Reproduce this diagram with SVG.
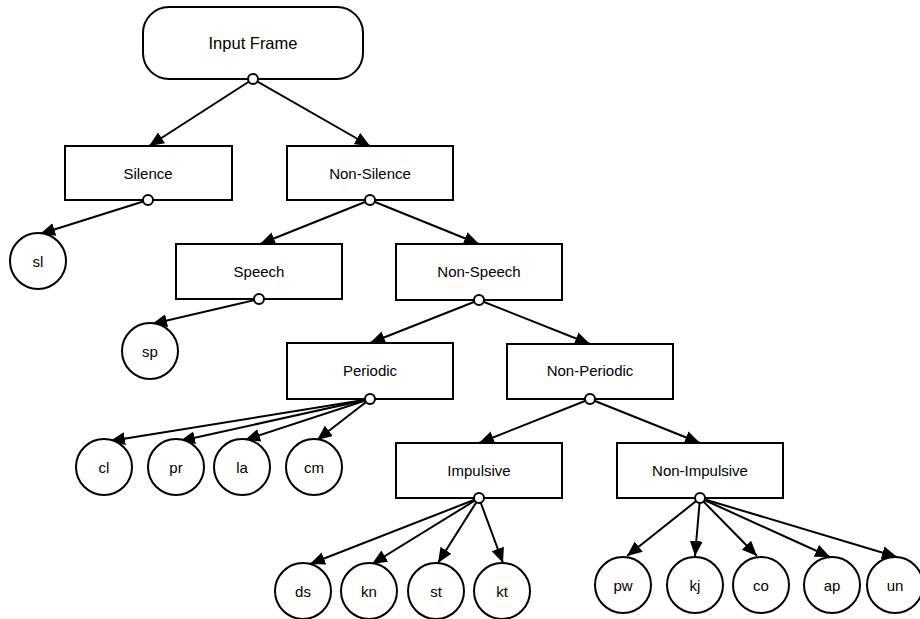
<svg xmlns="http://www.w3.org/2000/svg" width="920" height="619" viewBox="0 0 920 619">
<style>
.box{fill:#fff;stroke:#000;stroke-width:2}
.leaf{fill:#fff;stroke:#000;stroke-width:2}
.port{fill:#fff;stroke:#000;stroke-width:2}
.edge{stroke:#000;stroke-width:2;fill:none;marker-end:url(#arr)}
text{font-family:"Liberation Sans",Arial,sans-serif;font-size:15px;fill:#000;text-anchor:middle;dominant-baseline:central}
.title{font-size:16.5px}
</style>
<defs>
<marker id="arr" markerUnits="userSpaceOnUse" markerWidth="17" markerHeight="14" refX="15" refY="6.5" orient="auto">
<path d="M0,0 L15,6.5 L0,13 z" fill="#000"/>
</marker>
</defs>
<rect width="920" height="619" fill="#fff"/>
<g id="connectors">
<line class="edge" x1="253" y1="79" x2="149" y2="146"/>
<line class="edge" x1="253" y1="79" x2="370" y2="146"/>
<line class="edge" x1="148" y1="200" x2="40" y2="234"/>
<line class="edge" x1="370" y1="200" x2="260" y2="244"/>
<line class="edge" x1="370" y1="200" x2="479" y2="244"/>
<line class="edge" x1="259" y1="299" x2="152" y2="324"/>
<line class="edge" x1="479" y1="300" x2="370" y2="343"/>
<line class="edge" x1="479" y1="300" x2="590" y2="344"/>
<line class="edge" x1="370" y1="399" x2="110" y2="441"/>
<line class="edge" x1="370" y1="399" x2="180" y2="441"/>
<line class="edge" x1="370" y1="399" x2="245" y2="440"/>
<line class="edge" x1="370" y1="399" x2="317" y2="440"/>
<line class="edge" x1="590" y1="399" x2="479" y2="443"/>
<line class="edge" x1="590" y1="399" x2="700" y2="443"/>
<line class="edge" x1="479" y1="498" x2="310" y2="564"/>
<line class="edge" x1="479" y1="498" x2="372" y2="564"/>
<line class="edge" x1="479" y1="498" x2="438" y2="563"/>
<line class="edge" x1="479" y1="498" x2="503" y2="563"/>
<line class="edge" x1="700" y1="498" x2="627" y2="556"/>
<line class="edge" x1="700" y1="498" x2="695" y2="556"/>
<line class="edge" x1="700" y1="498" x2="757" y2="556"/>
<line class="edge" x1="700" y1="498" x2="830" y2="557"/>
<line class="edge" x1="700" y1="498" x2="897" y2="557"/>
</g>
<g id="input-frame"><rect class="box" x="143" y="7" width="220" height="72" rx="26" ry="26"/><text class="title" x="253" y="43">Input Frame</text></g>
<g id="silence"><rect class="box" x="65" y="146" width="167" height="54"/><text x="148" y="173">Silence</text></g>
<g id="non-silence"><rect class="box" x="287" y="146" width="166" height="54"/><text x="370" y="173">Non-Silence</text></g>
<g id="speech"><rect class="box" x="176" y="244" width="166" height="55"/><text x="259" y="271">Speech</text></g>
<g id="non-speech"><rect class="box" x="396" y="244" width="166" height="56"/><text x="479" y="271">Non-Speech</text></g>
<g id="periodic"><rect class="box" x="287" y="343" width="166" height="56"/><text x="370" y="370">Periodic</text></g>
<g id="non-periodic"><rect class="box" x="507" y="344" width="166" height="55"/><text x="590" y="370">Non-Periodic</text></g>
<g id="impulsive"><rect class="box" x="396" y="443" width="166" height="55"/><text x="479" y="470">Impulsive</text></g>
<g id="non-impulsive"><rect class="box" x="617" y="443" width="166" height="55"/><text x="700" y="470">Non-Impulsive</text></g>
<g id="sl"><circle class="leaf" cx="38" cy="261" r="28"/><text x="38" y="261">sl</text></g>
<g id="sp"><circle class="leaf" cx="150" cy="351" r="28"/><text x="150" y="351">sp</text></g>
<g id="cl"><circle class="leaf" cx="104" cy="467" r="28"/><text x="104" y="467">cl</text></g>
<g id="pr"><circle class="leaf" cx="176" cy="467" r="28"/><text x="176" y="467">pr</text></g>
<g id="la"><circle class="leaf" cx="242" cy="467" r="28"/><text x="242" y="467">la</text></g>
<g id="cm"><circle class="leaf" cx="314" cy="467" r="28"/><text x="314" y="467">cm</text></g>
<g id="ds"><circle class="leaf" cx="303" cy="591" r="28"/><text x="303" y="591">ds</text></g>
<g id="kn"><circle class="leaf" cx="369" cy="591" r="28"/><text x="369" y="591">kn</text></g>
<g id="st"><circle class="leaf" cx="436" cy="591" r="28"/><text x="436" y="591">st</text></g>
<g id="kt"><circle class="leaf" cx="502" cy="591" r="28"/><text x="502" y="591">kt</text></g>
<g id="pw"><circle class="leaf" cx="623" cy="585" r="28"/><text x="623" y="585">pw</text></g>
<g id="kj"><circle class="leaf" cx="695" cy="585" r="28"/><text x="695" y="585">kj</text></g>
<g id="co"><circle class="leaf" cx="761" cy="585" r="28"/><text x="761" y="585">co</text></g>
<g id="ap"><circle class="leaf" cx="832" cy="585" r="28"/><text x="832" y="585">ap</text></g>
<g id="un"><circle class="leaf" cx="895" cy="585" r="28"/><text x="895" y="585">un</text></g>
<g id="ports">
<circle class="port" cx="253" cy="79" r="5"/>
<circle class="port" cx="148" cy="200" r="5"/>
<circle class="port" cx="370" cy="200" r="5"/>
<circle class="port" cx="259" cy="299" r="5"/>
<circle class="port" cx="479" cy="300" r="5"/>
<circle class="port" cx="370" cy="399" r="5"/>
<circle class="port" cx="590" cy="399" r="5"/>
<circle class="port" cx="479" cy="498" r="5"/>
<circle class="port" cx="700" cy="498" r="5"/>
</g>
</svg>
